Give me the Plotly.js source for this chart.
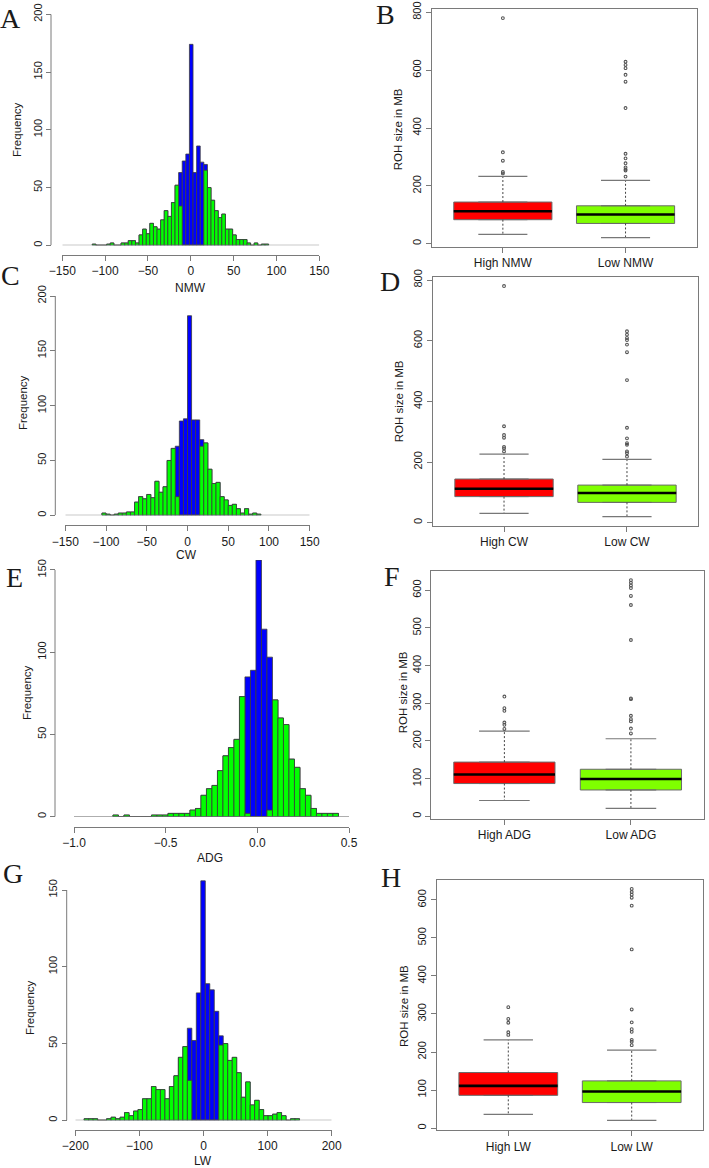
<!DOCTYPE html>
<html><head><meta charset="utf-8">
<script src="https://cdn.plot.ly/plotly-3.0.1.min.js"></script>
<style>html,body{margin:0;padding:0;background:#fff}#chart{width:709px;height:1168px}</style>
</head><body><div id="chart"></div>
<script>
// ---------------- DATA ----------------
// Histogram A (NMW): bins start, bin width, counts of all animals (blue) and tail groups (green)
const nmwBinStart = -115, nmwBinWidth = 4.2;
const nmwAll  = [1,0,0,0,1,2,0,0,2,2,4,4,2,9,14,10,19,16,14,22,30,25,37,52,63,73,79,174,63,86,72,70,50,39,30,24,27,14,14,9,5,5,5,2,0,2,0,1,1];
const nmwTail = [1,0,0,0,1,2,0,0,2,2,4,4,2,9,14,10,19,16,14,22,30,25,37,52,34,0,0,0,0,0,0,65,50,39,30,24,27,14,14,9,5,5,5,2,0,2,0,1,1];
const nmwTicks = [-150,-100,-50,0,50,100,150];

// Histogram C (CW)
const cwBinStart = -105, cwBinWidth = 5;
const cwAll  = [2,1,0,1,2,2,3,3,12,17,15,19,16,31,21,26,50,61,63,86,88,182,87,87,69,66,42,29,30,17,14,9,10,6,2,6,1,2,1];
const cwTail = [2,1,0,1,2,2,3,3,12,17,15,19,16,31,21,26,50,61,17,0,0,0,0,0,63,66,42,29,30,17,14,9,10,6,2,6,1,2,1];
const cwTicks = [-150,-100,-50,0,50,100,150];

// Histogram E (ADG)
const adgBinStart = -0.7875, adgBinWidth = 0.03;
const adgAll  = [1,0,1,0,0,0,0,1,1,1,2,2,2,2,4,5,13,17,19,28,37,42,47,73,85,89,156,114,97,71,60,56,35,30,17,13,5,2,2,2,2];
const adgTail = [1,0,1,0,0,0,0,1,1,1,2,2,2,2,4,5,13,17,19,28,37,42,47,73,2,0,0,0,4,71,60,56,35,30,17,13,5,2,2,2,2];
const adgTicks = [-1.0,-0.5,0.0,0.5];

// Histogram G (LW)
const lwBinStart = -186.2, lwBinWidth = 7;
const lwAll  = [1,1,1,0,0,1,2,1,2,5,3,6,7,14,14,22,20,20,14,22,29,41,48,60,52,83,156,89,85,71,55,50,39,41,31,15,25,10,13,7,3,3,4,5,3,0,1,1];
const lwTail = [1,1,1,0,0,1,2,1,2,5,3,6,7,14,14,22,20,20,14,22,29,41,48,26,0,0,0,0,0,0,49,50,39,41,31,15,25,10,13,7,3,3,4,5,3,0,1,1];
const lwTicks = [-200,-100,0,100,200];

const freqTicks200 = [0,50,100,150,200];
const freqTicks150 = [0,50,100,150];

// Boxplots: ROH size in MB
const boxB_labels = ['High NMW','Low NMW'];
const boxB_q1 = [83, 70], boxB_med = [112, 101], boxB_q3 = [144, 131], boxB_lo = [32, 21], boxB_hi = [233, 219];
const boxB_outHigh = [243, 248, 287, 316, 780];
const boxB_outLow  = [232, 253, 257, 264, 278, 295, 311, 469, 560, 584, 607, 618, 629];

const boxD_labels = ['High CW','Low CW'];
const boxD_q1 = [86, 67], boxD_med = [112, 98], boxD_q3 = [144, 124], boxD_lo = [31, 20], boxD_hi = [226, 209];
const boxD_outHigh = [235, 245, 250, 280, 289, 318, 780];
const boxD_outLow  = [218, 229, 235, 257, 262, 278, 313, 470, 562, 587, 602, 609, 620, 631];

const boxF_labels = ['High ADG','Low ADG'];
const boxF_q1 = [87, 70], boxF_med = [111, 99], boxF_q3 = [144, 125], boxF_lo = [42, 21], boxF_hi = [226, 206];
const boxF_outHigh = [232, 243, 249, 280, 287, 318];
const boxF_outLow  = [220, 233, 252, 258, 267, 311, 313, 468, 561, 585, 606, 613, 620, 627];

const boxH_labels = ['High LW','Low LW'];
const boxH_q1 = [86, 67], boxH_med = [111, 96], boxH_q3 = [146, 124], boxH_lo = [36, 20], boxH_hi = [232, 205];
const boxH_outHigh = [245, 252, 277, 287, 318];
const boxH_outLow  = [218, 227, 232, 253, 260, 278, 312, 470, 585, 606, 614, 621, 629];

const boxTicks800 = [0,200,400,600,800];
const boxTicks600 = [0,100,200,300,400,500,600];

// ---------------- STYLE ----------------
const W = 709, H = 1168;
const px = v => v / W;
const py = v => 1 - v / H;
const FONT = 'Liberation Sans, Arial, sans-serif';
const AXC = '#7a7a7a';
const TXT = '#1a1a1a';
const BLUE = '#0000FF', GREEN = '#00FF00';
const RED = '#FF0000', LIME = '#7FFF00';

const traces = [];
const shapes = [];
const annotations = [];

function centers(start, width, n) {
  return Array.from({length: n}, (_, i) => start + width * (i + 0.5));
}

function addHist(xa, ya, start, width, all, tail) {
  const xs = centers(start, width, all.length);
  const bar = (y, color) => ({
    type: 'bar', x: xs, y: y, width: width, xaxis: xa, yaxis: ya,
    marker: {color: color, line: {color: '#3c3c3c', width: 0.8}},
    hoverinfo: 'skip', showlegend: false
  });
  traces.push(bar(all, BLUE));
  traces.push(bar(tail, GREEN));
}

function addBox(xa, ya, q1, med, q3, lo, hi, outs, colors) {
  for (let i = 0; i < q1.length; i++) {
    const c = i + 1;
    traces.push({
      type: 'box', xaxis: xa, yaxis: ya, x: [c],
      q1: [q1[i]], median: [med[i]], q3: [q3[i]],
      lowerfence: [q1[i]], upperfence: [q3[i]],
      width: 0.8, fillcolor: colors[i], line: {color: '#6a6a6a', width: 1},
      boxpoints: false, hoverinfo: 'skip', showlegend: false
    });
    // whiskers (dashed)
    traces.push({
      type: 'scatter', mode: 'lines', xaxis: xa, yaxis: ya,
      x: [c, c, null, c, c], y: [q3[i], hi[i], null, q1[i], lo[i]],
      line: {color: '#444', width: 1, dash: '2px,2px'},
      hoverinfo: 'skip', showlegend: false
    });
    // staples
    traces.push({
      type: 'scatter', mode: 'lines', xaxis: xa, yaxis: ya,
      x: [c - 0.2, c + 0.2, null, c - 0.2, c + 0.2], y: [hi[i], hi[i], null, lo[i], lo[i]],
      line: {color: '#777', width: 1.2},
      hoverinfo: 'skip', showlegend: false
    });
    // median
    traces.push({
      type: 'scatter', mode: 'lines', xaxis: xa, yaxis: ya,
      x: [c - 0.4, c + 0.4], y: [med[i], med[i]],
      line: {color: '#000', width: 2.6},
      hoverinfo: 'skip', showlegend: false
    });
    // outliers
    traces.push({
      type: 'scatter', mode: 'markers', xaxis: xa, yaxis: ya,
      x: outs[i].map(() => c), y: outs[i],
      marker: {symbol: 'circle-open', size: 2.8, color: '#555', line: {width: 1.1}},
      hoverinfo: 'skip', showlegend: false
    });
  }
}

// histogram traces
addHist('x',  'y',  nmwBinStart, nmwBinWidth, nmwAll, nmwTail);
addHist('x3', 'y3', cwBinStart,  cwBinWidth,  cwAll,  cwTail);
addHist('x5', 'y5', adgBinStart, adgBinWidth, adgAll, adgTail);
addHist('x7', 'y7', lwBinStart,  lwBinWidth,  lwAll,  lwTail);

// box traces
addBox('x2', 'y2', boxB_q1, boxB_med, boxB_q3, boxB_lo, boxB_hi, [boxB_outHigh, boxB_outLow], [RED, LIME]);
addBox('x4', 'y4', boxD_q1, boxD_med, boxD_q3, boxD_lo, boxD_hi, [boxD_outHigh, boxD_outLow], [RED, LIME]);
addBox('x6', 'y6', boxF_q1, boxF_med, boxF_q3, boxF_lo, boxF_hi, [boxF_outHigh, boxF_outLow], [RED, LIME]);
addBox('x8', 'y8', boxH_q1, boxH_med, boxH_q3, boxH_lo, boxH_hi, [boxH_outHigh, boxH_outLow], [RED, LIME]);

// ---------------- AXES ----------------
function histX(d0, d1, range, linePy, ticks, fmt) {
  return {
    domain: [px(d0), px(d1)], range: range, anchor: 'free', position: py(linePy),
    tickvals: ticks, tickformat: fmt || '', ticks: 'outside', ticklen: 5, tickcolor: AXC, tickwidth: 1,
    showline: true, linecolor: AXC, linewidth: 1, showgrid: false, zeroline: false,
    tickfont: {family: FONT, size: 12, color: TXT}, fixedrange: true
  };
}
function histY(top, bottom, range, linePx, ticks) {
  return {
    domain: [py(bottom), py(top)], range: range, anchor: 'free', position: px(linePx),
    tickvals: ticks, ticks: 'outside', ticklen: 5, tickcolor: AXC, tickwidth: 1, tickangle: -90,
    showline: false, showgrid: false, zeroline: false,
    tickfont: {family: FONT, size: 11, color: TXT}, fixedrange: true
  };
}
function boxX(d0, d1, labels, ya) {
  return {
    domain: [px(d0), px(d1)], range: [0.42, 2.58], anchor: ya,
    tickvals: [1, 2], ticktext: labels, ticks: 'outside', ticklen: 5, tickcolor: AXC,
    showline: true, mirror: true, linecolor: AXC, linewidth: 1, showgrid: false, zeroline: false,
    tickfont: {family: FONT, size: 12, color: TXT}, fixedrange: true
  };
}
function boxY(top, bottom, range, ticks, xa) {
  return {
    domain: [py(bottom), py(top)], range: range, anchor: xa,
    tickvals: ticks, ticks: 'outside', ticklen: 5, tickcolor: AXC, tickangle: -90,
    showline: true, mirror: true, linecolor: AXC, linewidth: 1, showgrid: false, zeroline: false,
    tickfont: {family: FONT, size: 11, color: TXT}, fixedrange: true
  };
}

function histLines(xa, ya, xr, linePx, yTop) {
  // R-style y axis line spanning tick range, and the zero baseline
  shapes.push({type: 'line', xref: 'paper', yref: ya, x0: px(linePx), x1: px(linePx), y0: 0, y1: yTop,
    line: {color: AXC, width: 1}});
  shapes.push({type: 'line', xref: xa, yref: ya, x0: xr[0], x1: xr[1], y0: 0, y1: 0,
    line: {color: AXC, width: 1}});
}

const layout = {
  width: W, height: H, margin: {l: 0, r: 0, t: 0, b: 0},
  paper_bgcolor: '#fff', plot_bgcolor: '#fff', showlegend: false, barmode: 'overlay',
  font: {family: FONT, color: TXT},
  xaxis:  histX(62.3, 319.3, [-150, 150], 255, nmwTicks),
  yaxis:  histY(14.3, 245.3, [0, 200], 51, freqTicks200),
  xaxis3: histX(65.3, 309.7, [-150, 150], 525.3, cwTicks),
  yaxis3: histY(296, 515.3, [0, 200], 55.3, freqTicks200),
  xaxis5: histX(74, 349, [-1.0, 0.5], 826.7, adgTicks, '.1f'),
  yaxis5: histY(560.1, 816.7, [0, 156], 55, freqTicks150),
  xaxis7: histX(75.3, 331.7, [-200, 200], 1130, lwTicks),
  yaxis7: histY(879.3, 1120.3, [0, 157], 66.7, freqTicks150),
  xaxis2: boxX(431.7, 696.7, boxB_labels, 'y2'),
  yaxis2: boxY(9.3, 246.7, [-10.4, 810.4], boxTicks800, 'x2'),
  xaxis4: boxX(432.7, 698.3, boxD_labels, 'y4'),
  yaxis4: boxY(276.85, 525.86, [-10.4, 810.4], boxTicks800, 'x4'),
  xaxis6: boxX(431, 704.3, boxF_labels, 'y6'),
  yaxis6: boxY(570.7, 818.6, [-6, 652], boxTicks600, 'x6'),
  xaxis8: boxX(436.7, 703.3, boxH_labels, 'y8'),
  yaxis8: boxY(880.2, 1130.3, [-6, 652], boxTicks600, 'x8'),
  shapes: shapes, annotations: annotations
};

histLines('x',  'y',  [-150, 150], 51, 200);
histLines('x3', 'y3', [-150, 150], 55.3, 200);
histLines('x5', 'y5', [-1.0, 0.5], 55, 150);
histLines('x7', 'y7', [-200, 200], 66.7, 150);

function note(text, x, y, size, angle, family) {
  annotations.push({text: text, xref: 'paper', yref: 'paper', x: px(x), y: py(y),
    xanchor: 'center', yanchor: 'middle', showarrow: false, textangle: angle || 0,
    font: {family: family || FONT, size: size, color: TXT}});
}
// axis titles
note('Frequency', 17, 130, 11.5, -90);
note('NMW', 190.7, 288, 12);
note('Frequency', 23, 403, 11.5, -90);
note('CW', 186.7, 555, 12);
note('Frequency', 27, 693, 11.5, -90);
note('ADG', 210, 858, 12);
note('Frequency', 30, 1007, 11.5, -90);
note('LW', 203, 1161, 12);
note('ROH size in MB', 398.3, 129, 11.5, -90);
note('ROH size in MB', 399.3, 401, 11.5, -90);
note('ROH size in MB', 403.3, 692, 11.5, -90);
note('ROH size in MB', 404, 1006, 11.5, -90);
// panel letters
const SERIF = 'Liberation Serif, Times New Roman, serif';
note('A', 10, 18, 28, 0, SERIF);
note('B', 385, 15, 28, 0, SERIF);
note('C', 10, 276, 28, 0, SERIF);
note('D', 390, 281, 28, 0, SERIF);
note('E', 15, 578, 28, 0, SERIF);
note('F', 392, 577, 28, 0, SERIF);
note('G', 13, 873, 28, 0, SERIF);
note('H', 391, 877, 28, 0, SERIF);

Plotly.newPlot('chart', traces, layout, {displayModeBar: false, staticPlot: true});
</script>
</body></html>
